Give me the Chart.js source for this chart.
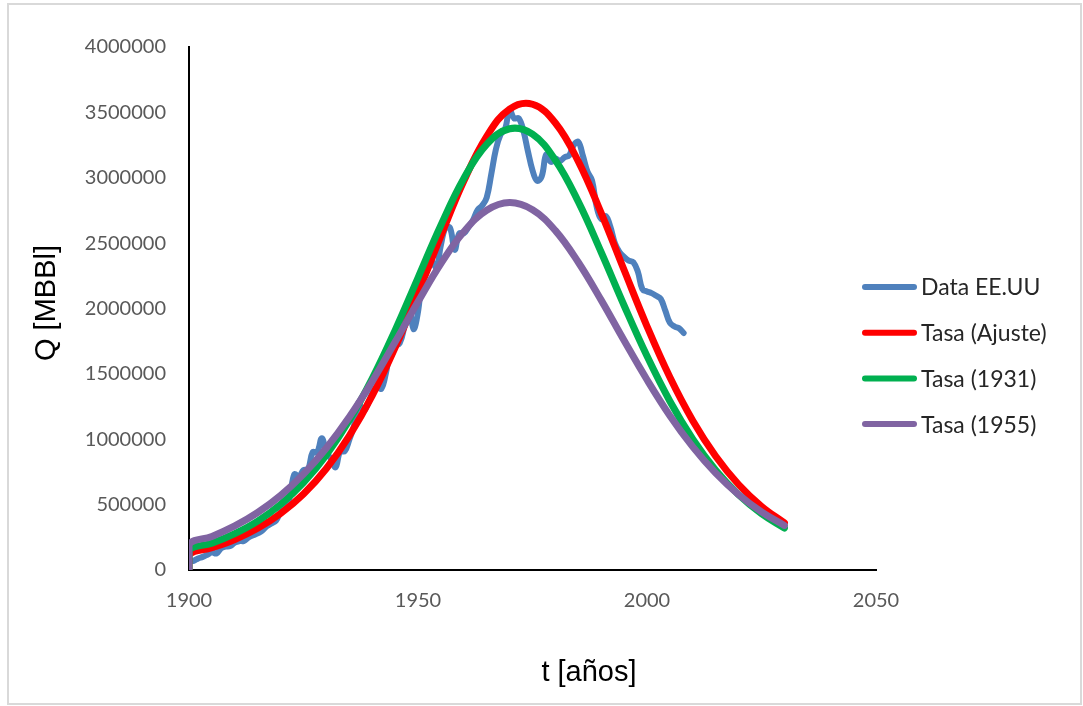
<!DOCTYPE html>
<html>
<head>
<meta charset="utf-8">
<script src="https://cdn.jsdelivr.net/npm/chart.js@4.4.1/dist/chart.umd.min.js"></script>
<style>
  html, body { margin: 0; padding: 0; background: #fff; }
  #wrap { position: relative; width: 1083px; height: 706px; }
  #frame { position: absolute; left: 7px; top: 3px; width: 1075px; height: 702px;
           border: 2px solid #d9d9d9; box-sizing: border-box; pointer-events: none; }
  canvas { position: absolute; left: 0; top: 0; }
</style>
</head>
<body>
<div id="wrap">
  <canvas id="chart" width="1083" height="706"></canvas>
  <div id="frame"></div>
</div>
<script>
// Annual US crude production, MBbl (first entry anchors the curve at zero)
const dataStartYear = 1900;
const dataValues = [0,
  63621, 69389, 88767, 100461, 117081, 134717, 126494, 166095, 178527, 183171,
  209557, 220449, 222935, 248446, 265763, 281104, 300767, 335316, 355928, 378367,
  442929, 472183, 557531, 732407, 713940, 763743, 770874, 901129, 901474, 1007323,
  898011, 851081, 785159, 905656, 908065, 996596, 1099687, 1279160, 1214355, 1264962,
  1353214, 1402228, 1386645, 1505613, 1677904, 1713655, 1733939, 1856987, 2020185, 1841940,
  1973574, 2247711, 2289836, 2357082, 2314988, 2484428, 2617283, 2616901, 2448987, 2574590,
  2574933, 2621758, 2676189, 2752723, 2786822, 2848514, 3027763, 3215742, 3329042, 3371751,
  3517450, 3453914, 3455368, 3360903, 3202585, 3056779, 2976180, 3009265, 3178216, 3121310,
  3146365, 3128624, 3156715, 3170999, 3249696, 3274553, 3168252, 3047378, 2979123, 2778773,
  2684687, 2707039, 2624632, 2499033, 2431476, 2394268, 2366017, 2354831, 2281919, 2146732,
  2130707, 2117511, 2097124, 2073453, 1983302, 1890106, 1862259, 1848450, 1812452
];
const dataYears = [dataStartYear].concat(
  dataValues.slice(1).map((_, i) => dataStartYear + i)
);

// Rate curves sampled every five years
const fitYears = [1900, 1900, 1905, 1910, 1915, 1920, 1925, 1930, 1935, 1940, 1945,
  1950, 1955, 1960, 1965, 1970, 1975, 1980, 1985, 1990, 1995,
  2000, 2005, 2010, 2015, 2020, 2025, 2030];
const tasaAjuste = [0, 118000, 171000, 234000, 319000, 432000, 581000, 776000, 1025000, 1333000, 1701000,
  2117000, 2556000, 2975000, 3316000, 3525000, 3562000, 3419000, 3125000, 2730000, 2294000,
  1864000, 1474000, 1142000, 870000, 654000, 487000, 360000];
const tasa1931 = [0, 151000, 205000, 278000, 374000, 502000, 668000, 880000, 1145000, 1464000, 1833000,
  2235000, 2637000, 2994000, 3255000, 3375000, 3333000, 3134000, 2817000, 2430000, 2023000,
  1636000, 1291000, 1000000, 763000, 576000, 431000, 321000];
const tasa1955 = [0, 195000, 257000, 337000, 440000, 570000, 733000, 933000, 1170000, 1443000, 1743000,
  2051000, 2344000, 2587000, 2751000, 2810000, 2755000, 2596000, 2354000, 2064000, 1755000,
  1455000, 1180000, 942000, 741000, 577000, 445000, 341000];

const seriesLabels = ['Data EE.UU', 'Tasa (Ajuste)', 'Tasa (1931)', 'Tasa (1955)'];
const seriesColors = ['#4f81bd', '#ff0000', '#00b050', '#8064a2'];

const xTicks = [1900, 1950, 2000, 2050];
const yMax = 4000000, yStep = 500000;

const xTitle = 't [años]';
const yTitle = 'Q [MBBl]';

function pairs(xs, ys) { return ys.map((y, i) => ({ x: xs[i], y: y })); }

function lineSet(idx, points, width) {
  return {
    label: seriesLabels[idx],
    data: points,
    borderColor: seriesColors[idx],
    backgroundColor: seriesColors[idx],
    borderWidth: width,
    pointRadius: 0,
    tension: 0.4,
    borderCapStyle: 'round',
    borderJoinStyle: 'round',
    fill: false,
    clip: 0,
    order: 4 - idx
  };
}

// Axis captions and the side legend
const captions = {
  id: 'captions',
  afterDraw(chart) {
    const ctx = chart.ctx;
    const a = chart.chartArea;
    ctx.save();
    ctx.fillStyle = '#000';
    ctx.font = '29px "Liberation Sans", Arial, sans-serif';
    ctx.textAlign = 'center';
    ctx.textBaseline = 'middle';
    ctx.fillText(xTitle, a.left + 400, a.bottom + 103);
    ctx.translate(47, a.top + 256);
    ctx.rotate(-Math.PI / 2);
    ctx.fillText(yTitle, 0, 0);
    ctx.restore();

    ctx.save();
    ctx.font = '23px Lato, "Noto Sans", sans-serif';
    ctx.textAlign = 'left';
    ctx.textBaseline = 'middle';
    chart.data.datasets.forEach((ds, i) => {
      const y = a.top + 240 + i * 45.7;
      ctx.strokeStyle = ds.borderColor;
      ctx.lineWidth = 6;
      ctx.lineCap = 'round';
      ctx.beginPath();
      ctx.moveTo(a.right - 11, y);
      ctx.lineTo(a.right + 38, y);
      ctx.stroke();
      ctx.fillStyle = '#262626';
      ctx.fillText(ds.label, a.right + 45, y + 1);
    });
    ctx.restore();
  }
};

new Chart(document.getElementById('chart'), {
  type: 'line',
  data: {
    datasets: [
      lineSet(0, pairs(dataYears, dataValues), 6),
      lineSet(1, pairs(fitYears, tasaAjuste), 7),
      lineSet(2, pairs(fitYears, tasa1931), 7),
      lineSet(3, pairs(fitYears, tasa1955), 7)
    ]
  },
  options: {
    responsive: false,
    animation: false,
    events: [],
    layout: { padding: { top: 47, right: 207, bottom: 0, left: 0 } },
    plugins: { legend: { display: false }, tooltip: { enabled: false } },
    scales: {
      x: {
        type: 'linear',
        min: xTicks[0],
        max: xTicks[xTicks.length - 1],
        afterBuildTicks(scale) { scale.ticks = xTicks.map(v => ({ value: v })); },
        grid: { display: false, drawTicks: false },
        border: { display: true, color: '#000', width: 2 },
        ticks: {
          padding: 19,
          color: '#595959',
          font: { family: 'Lato', size: 20 },
          maxRotation: 0,
          callback: v => String(v)
        },
        afterFit(scale) { scale.height = 136; }
      },
      y: {
        type: 'linear',
        min: 0,
        max: yMax,
        grid: { display: false, drawTicks: false },
        border: { display: true, color: '#000', width: 2 },
        ticks: {
          stepSize: yStep,
          padding: 23,
          color: '#595959',
          font: { family: 'Lato', size: 20 },
          callback: v => String(v)
        },
        afterFit(scale) { scale.width = 189; }
      }
    }
  },
  plugins: [captions]
});
</script>
</body>
</html>
